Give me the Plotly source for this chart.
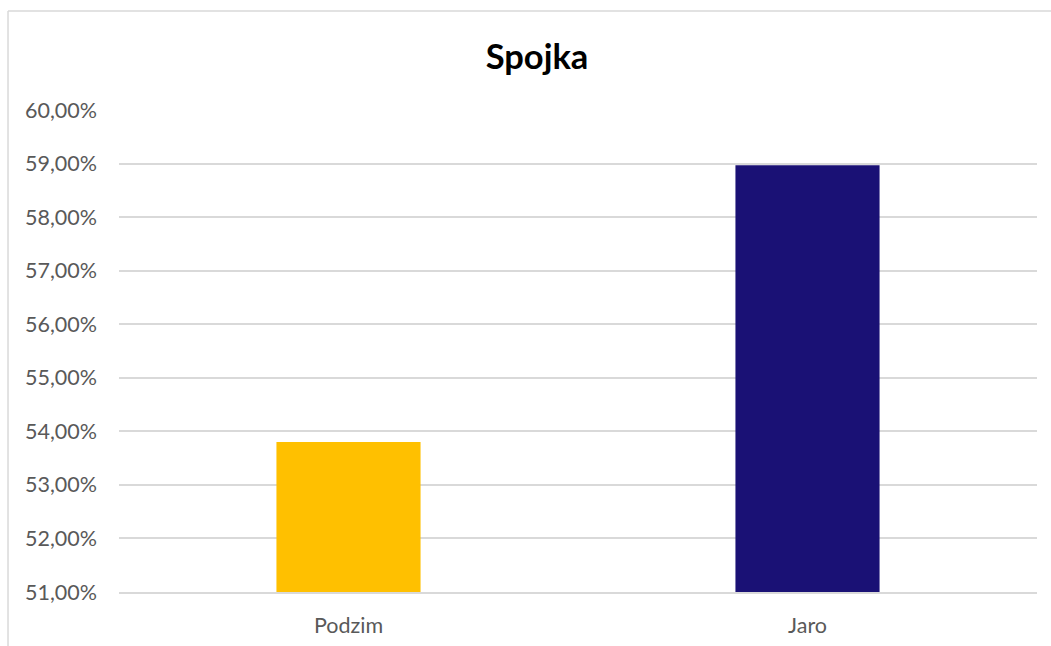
import plotly.graph_objects as go

categories = ["Podzim", "Jaro"]
values = [0.538, 0.5897]
bar_colors = ["#FFC000", "#1A1175"]

fig = go.Figure(
    go.Bar(
        x=categories,
        y=values,
        marker=dict(color=bar_colors, line=dict(width=0)),
        width=0.314,
        hoverinfo="x+y",
    )
)

grid_color = "#D9D9D9"
fig.update_layout(
    width=1051,
    height=646,
    margin=dict(l=119, r=14, t=110, b=54),
    paper_bgcolor="white",
    plot_bgcolor="white",
    separators=",.",
    font=dict(family="Lato, Carlito, sans-serif", color="#595959"),
    title=dict(
        text="<b>Spojka</b>",
        x=537 / 1051,
        xanchor="center",
        y=1 - 57 / 646,
        yanchor="middle",
        font=dict(size=34.5, color="black", family="Lato, sans-serif"),
    ),
    showlegend=False,
    yaxis=dict(
        range=[0.51, 0.60],
        dtick=0.01,
        tick0=0.51,
        tickformat=".2%",
        showgrid=True,
        gridcolor=grid_color,
        gridwidth=1.5,
        zeroline=False,
        showline=False,
        ticks="",
        ticklabelstandoff=21,
        automargin=False,
        tickfont=dict(size=21.5, color="#595959"),
    ),
    xaxis=dict(
        showgrid=False,
        zeroline=False,
        showline=True,
        linecolor=grid_color,
        linewidth=1.5,
        ticks="",
        ticklabelstandoff=13,
        automargin=False,
        tickfont=dict(size=21.5, color="#595959"),
    ),
    shapes=[
        dict(type="line", xref="paper", yref="paper",
             x0=-0.1209, x1=1.1, y0=1.2054, y1=1.2054,
             line=dict(color=grid_color, width=1.5)),
        dict(type="line", xref="paper", yref="paper",
             x0=-0.1209, x1=-0.1209, y0=1.2054, y1=-0.2,
             line=dict(color=grid_color, width=1.5)),
    ],
)

fig.write_html("out.html")
